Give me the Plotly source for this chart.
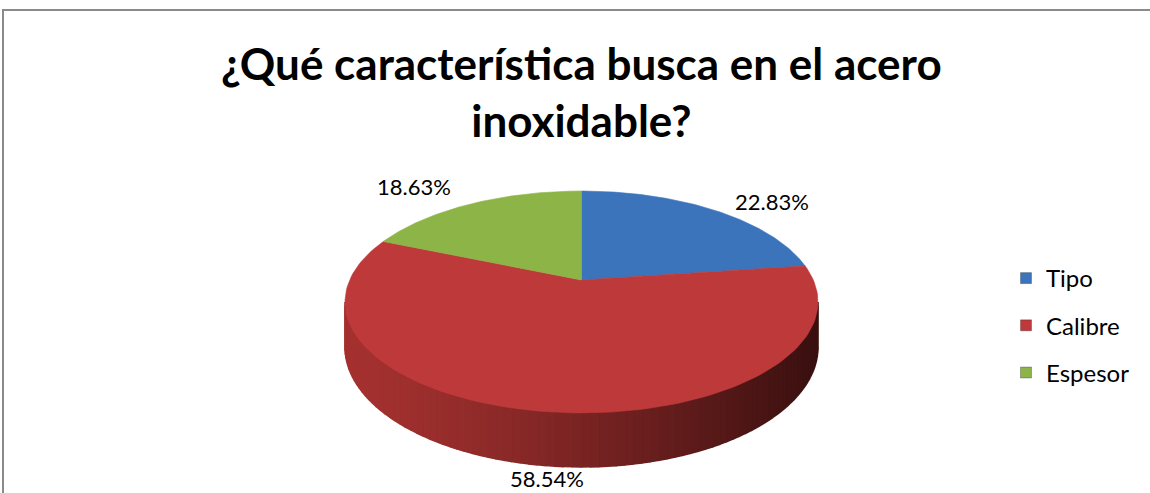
import math
import plotly.graph_objects as go

# ---- data ----
categories = ["Tipo", "Calibre", "Espesor"]
percentages = [22.83, 58.54, 18.63]
colors_top = ["#3C74BC", "#BE3A3A", "#8DB446"]
title_text = "¿Qué característica busca en el acero<br>inoxidable?"

# ---- 3D pie geometry (pixel space, y grows downward) ----
W, H = 1150, 493
CX, CY = 581.5, 280.0      # apex of the slices
AX, BY = 231.8, 106.6      # projected radii
K = 0.198                  # perspective factor
DEPTH = 43.3               # pie thickness


def top_pt(theta_deg):
    t = math.radians(theta_deg)
    u, v = math.sin(t), math.cos(t)
    d = 1 + K * v
    return CX + AX * u / d, CY - BY * v / d


def bottom_pt(theta_deg):
    t = math.radians(theta_deg)
    v = math.cos(t)
    x, y = top_pt(theta_deg)
    return x, y + DEPTH / (1 + K * v)


def arc(a0, a1, fn, n=120):
    pts = [fn(a0 + (a1 - a0) * i / n) for i in range(n + 1)]
    return [p[0] for p in pts], [p[1] for p in pts]


fig = go.Figure()

# slice angle spans, clockwise from 12 o'clock
starts, ends = [], []
acc = 0.0
total = sum(percentages)
for p in percentages:
    starts.append(acc)
    acc += 360.0 * p / total
    ends.append(acc)

# visible side wall (front half)
left_ext = 360 - math.degrees(math.acos(-K))
right_ext = math.degrees(math.acos(-K))

# base wall underneath the shaded strips (hides seams between strips)
xs_t, ys_t = arc(right_ext, left_ext, top_pt, 200)
xs_b, ys_b = arc(left_ext, right_ext, bottom_pt, 200)
fig.add_trace(go.Scatter(
    x=xs_t + xs_b, y=ys_t + ys_b, mode="lines", fill="toself",
    fillcolor="rgb(110,32,31)", line=dict(width=0, color="rgb(110,32,31)"),
    hoverinfo="skip", showlegend=False))

n_strips = 90
c_light = (165, 50, 48)
c_dark = (58, 16, 16)
for i in range(n_strips):
    a0 = right_ext + (left_ext - right_ext) * i / n_strips
    a1 = right_ext + (left_ext - right_ext) * (i + 1) / n_strips
    xs_t, ys_t = arc(a0, a1, top_pt, 4)
    xs_b, ys_b = arc(a1, a0, bottom_pt, 4)
    xm = (xs_t[0] + xs_t[-1]) / 2
    f = (xm - (CX - AX * 1.02)) / (2 * AX * 1.02)
    f = min(max(f, 0), 1) ** 1.3
    col = "rgb(%d,%d,%d)" % tuple(int(c_light[k] + (c_dark[k] - c_light[k]) * f) for k in range(3))
    fig.add_trace(go.Scatter(
        x=xs_t + xs_b, y=ys_t + ys_b, mode="lines", fill="toself",
        fillcolor=col, line=dict(width=1.6, color=col),
        hoverinfo="skip", showlegend=False))

# top faces
for i, cat in enumerate(categories):
    xs, ys = arc(starts[i], ends[i], top_pt)
    fig.add_trace(go.Scatter(
        x=[CX] + xs + [CX], y=[CY] + ys + [CY], mode="lines", fill="toself",
        fillcolor=colors_top[i], line=dict(width=0.6, color=colors_top[i]),
        name=cat, hoverinfo="name", showlegend=False))

# legend entries
for i, cat in enumerate(categories):
    fig.add_trace(go.Scatter(
        x=[None], y=[None], mode="markers", name=cat, legendgroup=cat,
        marker=dict(symbol="square", size=11, color=colors_top[i],
                    line=dict(width=1, color="rgba(0,0,0,0.25)"))))

# percentage labels outside each slice
label_shift = [(58, -9), (3, 13), (-58, -17)]
for i, p in enumerate(percentages):
    mid = (starts[i] + ends[i]) / 2
    x, y = top_pt(mid)
    if 90 < mid < 270:
        x, y = bottom_pt(mid)
    dx, dy = label_shift[i]
    fig.add_annotation(x=x, y=y, xref="x", yref="y", text=f"{p:.2f}%",
                       showarrow=False, xshift=dx, yshift=-dy,
                       font=dict(family="Lato", size=22, color="#000000"))

fig.add_annotation(x=581.5 / W, y=1 - 92 / H, xref="paper", yref="paper",
                   text="<b>" + title_text + "</b>", showarrow=False,
                   font=dict(family="Lato", size=44, color="#000000"),
                   align="center", xanchor="center", yanchor="middle")

# chart frame
fig.add_shape(type="rect", xref="paper", yref="paper",
              x0=3 / W, x1=1.05, y0=-0.05, y1=1 - 10 / H,
              line=dict(color="#8a8a8a", width=2))

fig.update_layout(
    width=W, height=H,
    margin=dict(l=0, r=0, t=0, b=0),
    paper_bgcolor="white", plot_bgcolor="white",
    xaxis=dict(range=[0, W], visible=False, fixedrange=True),
    yaxis=dict(range=[H, 0], visible=False, fixedrange=True),
    legend=dict(x=1006 / W, y=1 - 256 / H, xanchor="left", yanchor="top",
                font=dict(family="Lato", size=24, color="#000000"),
                itemwidth=30, tracegroupgap=13, bgcolor="rgba(0,0,0,0)"),
    showlegend=True,
)

fig.write_html("out.html")
